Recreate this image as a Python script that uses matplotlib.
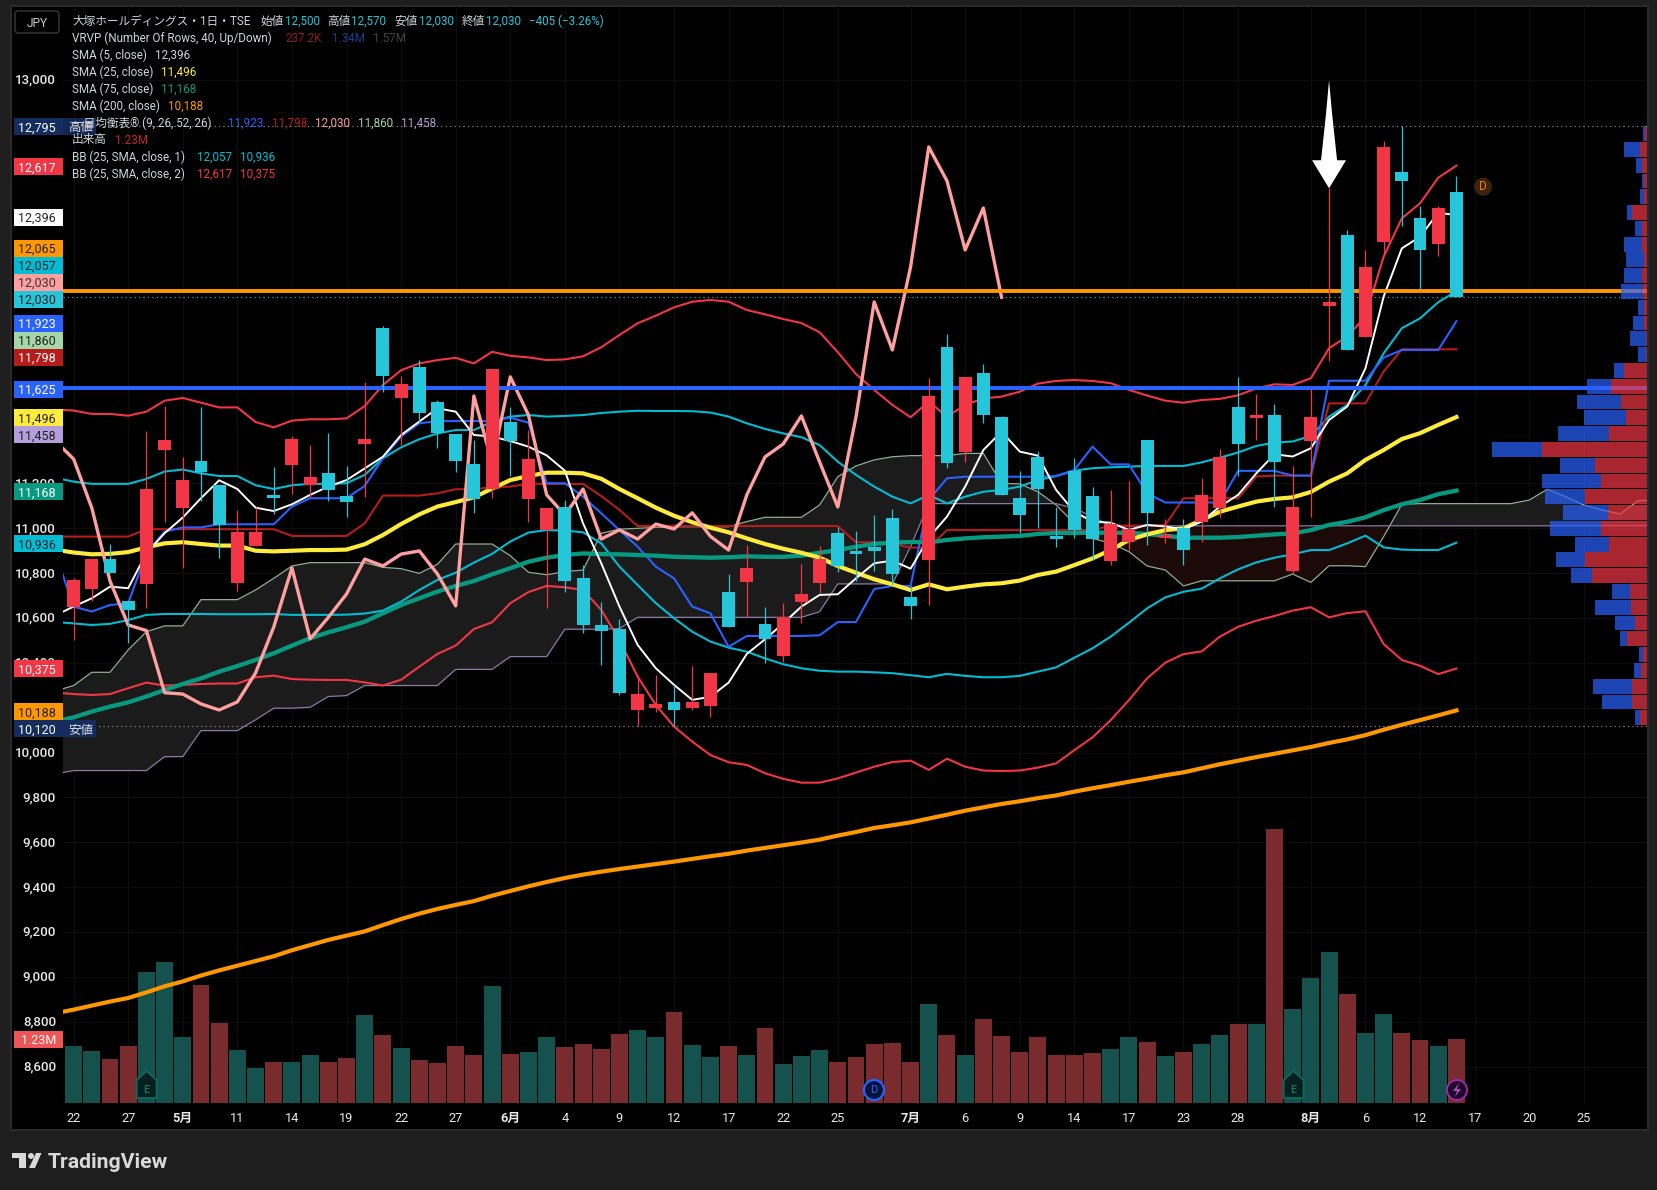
import numpy as np
import matplotlib
matplotlib.use("Agg")
import matplotlib.pyplot as plt
from matplotlib.patches import Rectangle, Circle, Polygon, FancyBboxPatch
from matplotlib.transforms import ScaledTranslation

plt.rcParams['font.family'] = ['Roboto', 'Noto Sans CJK JP', 'DejaVu Sans']

# ---------- data ----------
opens = [10648,10730,10863,10676,10752,11349,11091,11300,11193,10756,10921,11149,11282,11192,11247,11144,11376,11893,11582,11719,
         11563,11420,11287,11175,11474,11131,10993,11094,10779,10569,10551,10190,10199,10226,10199,10208,10716,10761,10573,10431,
         10672,10756,10979,10894,10917,11046,10694,10859,11808,11340,11692,11496,11135,11318,10966,11256,11144,10854,10939,11394,
         10958,11003,11028,11091,11541,11492,11505,10809,11389,11991,12308,11853,12277,12589,12384,12268,12500]
highs = [10777,10866,10930,10676,11434,11545,11317,11542,11193,11082,11097,11273,11412,11371,11424,11278,11654,11902,11679,11752,
         11570,11420,11394,11710,11542,11438,11091,11126,10836,10672,10594,10346,10346,10302,10386,10355,10796,10926,10649,10669,
         10841,10921,11007,10988,11059,11086,10743,11670,11866,11675,11733,11500,11256,11345,11097,11313,11184,11171,11211,11394,
         11042,11042,11225,11354,11675,11599,11554,11278,11621,12516,12330,12241,12727,12795,12437,12437,12570]
lows = [10502,10678,10801,10487,10645,11028,10823,11123,10868,10721,10921,11064,11153,11138,11123,11051,11140,11609,11371,11476,
        11357,11251,11067,11137,11235,11028,10645,10718,10535,10391,10257,10120,10180,10120,10190,10160,10560,10603,10401,10406,
        10579,10710,10805,10765,10810,10747,10596,10658,11269,11296,11470,11149,10979,11001,10917,10958,10859,10836,10903,10926,
        10933,10836,10941,11052,11233,11394,11097,10796,11049,11748,11795,11853,12219,12348,12067,12214,12030]
closes = [10770,10863,10801,10636,11175,11394,11215,11250,11013,10984,10984,11135,11398,11229,11171,11117,11398,11679,11643,11514,
          11423,11300,11131,11710,11389,11309,11091,10765,10569,10544,10267,10261,10217,10190,10226,10355,10560,10823,10507,10603,
          10707,10863,10832,10885,10899,10796,10654,11590,11291,11675,11505,11149,11059,11175,10952,10993,10952,11019,10997,11069,
          10964,10903,11149,11318,11376,11501,11296,11095,11496,12009,11795,12165,12700,12549,12241,12428,12030]

volumes_m = [1.095,1.00,0.846,1.095,2.52,2.71,1.27,2.27,1.54,1.02,0.67,0.79,0.79,0.92,0.79,0.865,1.69,1.31,1.06,0.83,0.77,1.095,0.92,2.25,
             0.94,0.98,1.27,1.08,1.13,1.04,1.33,1.40,1.27,1.75,1.115,0.88,1.095,0.92,1.44,0.75,0.90,1.02,
             0.79,0.88,1.13,1.15,0.79,1.90,1.31,0.92,1.61,1.29,0.98,1.27,0.92,0.92,0.96,1.04,1.27,1.17,0.90,0.98,1.13,1.31,1.52,1.52,
             5.27,1.81,2.40,2.90,2.09,1.35,1.71,1.35,1.21,1.10,1.23]
volume_dir = list("ggrrgggrrggrggrrgrgrrrrgrggrrrrggrggrgrggg"
                  "rrrrrgrgrrrrrrrggrgrggrgrgggrggrrgr")

# the series below start one session before the first visible bar
sma5 = [10612,10651,10688,10740,10733,10889,10978,11048,11134,11214,11175,11092,11077,11107,11149,11186,11215,11267,11319,11416,11476,
        11535,11520,11416,11409,11389,11364,11325,11257,11022,10844,10651,10480,10376,10302,10235,10249,10312,10440,10505,10576,10651,
        10703,10706,10777,10844,10856,10820,10958,11052,11186,11349,11431,11342,11324,11171,11074,11030,11025,10993,11015,11008,10996,
        11030,11097,11149,11245,11330,11320,11357,11483,11543,11713,12033,12248,12300,12407,12396]
sma25 = [10905,10892,10884,10886,10894,10915,10933,10938,10930,10923,10923,10900,10897,10900,10903,10903,10905,10929,10970,11019,11062,
         11097,11117,11138,11177,11215,11233,11248,11248,11245,11221,11175,11134,11092,11056,11027,11003,10982,10955,10930,10909,10891,
         10869,10832,10802,10773,10750,10725,10750,10728,10740,10750,10755,10767,10792,10807,10836,10866,10903,10948,10973,10992,11000,
         11037,11074,11097,11119,11131,11138,11162,11208,11245,11305,11349,11398,11424,11461,11496]
sma75 = [10140,10157,10183,10205,10224,10250,10279,10306,10331,10361,10386,10413,10443,10477,10510,10536,10559,10584,10621,10658,10688,
         10718,10743,10765,10795,10822,10851,10869,10881,10888,10885,10884,10881,10878,10873,10871,10869,10871,10875,10873,10873,10878,
         10891,10903,10918,10930,10936,10939,10937,10948,10955,10960,10963,10966,10975,10979,10979,10981,10980,10980,10974,10967,10958,
         10958,10958,10961,10967,10973,10977,10992,11015,11029,11049,11081,11107,11126,11152,11168]
sma200 = [8838,8854,8872,8890,8906,8931,8958,8980,9006,9029,9050,9071,9092,9119,9142,9165,9184,9203,9231,9258,9282,9303,9321,9338,9362,
          9383,9404,9423,9441,9456,9469,9481,9492,9503,9514,9526,9538,9549,9563,9575,9587,9599,9612,9630,9646,9664,9676,9689,9706,9723,
          9741,9756,9771,9783,9797,9809,9826,9841,9855,9870,9884,9899,9912,9930,9948,9964,9980,9995,10010,10025,10043,10059,10078,10102,
          10124,10145,10166,10188]
bb1_upper = [11225,11208,11198,11198,11198,11220,11253,11262,11245,11233,11233,11192,11175,11192,11198,11198,11201,11238,11312,11361,11397,
             11423,11438,11438,11475,11498,11505,11498,11501,11505,11514,11520,11524,11523,11523,11522,11516,11498,11468,11443,11423,11406,
             11371,11297,11238,11186,11141,11111,11149,11111,11141,11163,11171,11186,11215,11233,11257,11268,11272,11275,11278,11278,11278,
             11294,11315,11338,11367,11382,11387,11412,11498,11550,11639,11780,11892,11936,12008,12057]
bb1_lower = [10582,10576,10569,10574,10591,10614,10618,10618,10618,10617,10617,10617,10618,10614,10614,10614,10615,10620,10633,10673,10725,
             10770,10802,10847,10886,10941,10981,10992,10990,10982,10933,10829,10747,10666,10599,10539,10495,10468,10450,10420,10394,10376,
             10365,10361,10361,10358,10354,10345,10336,10351,10342,10336,10336,10342,10361,10380,10423,10465,10517,10579,10643,10692,10717,
             10731,10777,10817,10848,10869,10884,10903,10903,10933,10967,10915,10905,10903,10903,10936]
bb2_upper = [11530,11525,11510,11510,11502,11520,11569,11581,11560,11539,11539,11474,11450,11480,11486,11486,11490,11545,11639,11705,11735,
             11750,11760,11735,11787,11769,11762,11750,11753,11767,11807,11862,11914,11948,11985,12010,12018,12010,11973,11954,11933,11915,
             11874,11785,11688,11617,11550,11495,11565,11498,11550,11579,11587,11609,11645,11657,11661,11657,11647,11617,11592,11569,11560,
             11572,11577,11593,11624,11642,11639,11669,11803,11855,11944,12211,12382,12449,12563,12617]
bb2_lower = [10268,10261,10257,10261,10287,10312,10299,10302,10306,10308,10308,10336,10343,10328,10325,10324,10324,10313,10299,10325,10383,
             10440,10477,10551,10581,10666,10716,10743,10737,10725,10636,10502,10339,10212,10116,10049,9989,9957,9945,9908,9883,9866,
             9866,9885,9911,9937,9958,9964,9923,9973,9937,9920,9918,9920,9933,9952,10011,10068,10145,10234,10331,10401,10439,
             10451,10517,10561,10588,10609,10633,10648,10603,10622,10630,10484,10413,10387,10350,10375]
tenkan = [10889,10651,10629,10658,10666,10889,10985,11004,11004,11018,11018,11018,11018,11097,11134,11134,11134,11189,11312,11409,11468,
          11478,11478,11478,11478,11493,11471,11201,11201,11141,11067,10992,10918,10829,10777,10651,10621,10472,10520,10520,10520,10520,
          10523,10582,10582,10729,10743,10743,11126,11223,11230,11230,11230,11230,11230,11233,11260,11364,11285,11285,11156,11115,11115,
          11115,11115,11256,11256,11256,11235,11235,11658,11658,11658,11761,11795,11795,11795,11923]
kijun = [10963,10963,10963,10963,10963,10996,10996,10996,10996,10996,10996,10996,10996,10966,10966,10966,10966,11022,11146,11146,11146,
         11156,11174,11174,11183,11186,11199,11198,11198,11198,11144,11082,11010,11010,11010,11010,11010,11010,11010,11010,11010,11010,
         11010,11010,10938,10938,10930,10914,10914,10992,10992,10992,10992,10992,10992,10992,10992,10992,11012,11012,11012,11015,11134,
         11134,11134,11134,11231,11235,11235,11235,11557,11557,11557,11699,11798,11798,11798,11798]
senkou_a = [10275,10299,10358,10358,10458,10539,10565,10565,10682,10682,10682,10725,10777,10832,10847,10847,10847,10847,10826,10820,10799,
            10840,10930,10930,10930,10878,10804,10793,10807,10814,10978,10996,11000,11004,11007,11007,11007,11007,11030,11049,11049,11049,
            11104,11230,11278,11305,11319,11324,11324,11324,11334,11334,11200,11198,11163,11104,11022,10955,10933,10896,10832,10814,10743,
            10766,10766,10766,10766,10766,10796,10759,10833,10833,10829,10963,11107,11110,11110,11110,11110,11110,11110,11126,11174,11141,
            11104,11082,11064,11124,11124]
senkou_b = [9905,9920,9920,9920,9920,9920,9982,9982,10098,10098,10098,10146,10198,10198,10202,10250,10254,10299,10299,10299,10299,
            10299,10371,10371,10371,10428,10428,10428,10550,10550,10550,10553,10603,10603,10603,10603,10603,10603,10603,10603,10603,10603,
            10628,10752,10752,10752,10752,10918,11110,11110,11110,11110,11110,11110,11110,11110,11089,11052,11011,11011,11011,11011,11011,
            11011,11011,11011,11011,11011,11011,11011,11011,11011,11011,11011,11011,11011,11011,11011,11011,11011,11011,11011,11011,11011,
            11011,11011,11011,11011,11011]

# volume profile, top row first (million shares)
vp_low, vp_high = 10120, 12795
vp_up = [.09,.39,.32,.16,.18,.87,.32,.32,.18,.32,.237,.16,.18,.05,.05,1.39,2.17,1.53,1.28,2.30,6.27,3.08,2.76,3.72,2.35,2.76,2.30,3.72,3.26,
         1.03,.98,.71,1.21,.25,.34,.89,.89,.39]
vp_down = [.16,1.00,.36,.16,.21,.30,.41,1.07,1.09,1.07,1.34,.39,.68,.98,.50,.59,1.39,2.67,2.51,3.03,3.01,2.14,3.49,2.35,2.69,3.06,2.03,1.73,
           1.30,1.09,2.10,1.23,.43,.25,.46,2.35,1.82,.30]

resistance_orange = 12060
resistance_blue = 11625

tick_prices = [13000,11200,11000,10800,10600,10400,10200,10000,9800,9600,9400,9200,9000,8800,8600]
time_labels = {0:'22',3:'27',6:'5月',9:'11',12:'14',15:'19',18:'22',21:'27',24:'6月',27:'4',30:'9',33:'12',36:'17',39:'22',42:'25',
               46:'7月',49:'6',52:'9',55:'14',58:'17',61:'23',64:'28',68:'8月',71:'6',74:'12',77:'17',80:'20',83:'25'}

# ---------- colours ----------
BG, PANEL, BORDER = '#1e1e1e', '#000000', '#2a2a2a'
UP, DOWN = '#f23645', '#26c6da'
VOL_UP, VOL_DOWN = '#7a2b2d', '#15524d'
WHITE, YELLOW, TEAL, ORANGE = '#ffffff', '#ffeb3b', '#089981', '#ff9800'
BLUE, DARKRED, PINK = '#2962ff', '#b71c1c', '#ffa0a0'
SA, SB = '#8fae8f', '#8a7aa8'
CYAN = '#00bcd4'
TXT = '#d1d4dc'

# ---------- geometry (pixels of the 1658x1190 picture) ----------
W, H = 1658, 1190
fig = plt.figure(figsize=(W/100, H/100), dpi=100, facecolor=BG)
def rect(x0, y0, x1, y1):
    return [x0/W, 1-y1/H, (x1-x0)/W, (y1-y0)/H]

# chrome layer below everything
bgax = fig.add_axes([0,0,1,1], zorder=0); bgax.set_xlim(0,W); bgax.set_ylim(H,0); bgax.axis('off')
bgax.add_patch(Rectangle((11,6),1637,1124,fc=PANEL,ec=BORDER,lw=1.5))

CH_L, CH_R, CH_T, CH_B = 63, 1647, 6, 1104
BAR0, BAR_STEP = 73.6, 18.195
PY0, PSCALE = 528.3, 0.2243
xlim = ((CH_L-BAR0)/BAR_STEP, (CH_R-BAR0)/BAR_STEP)
ylim = (11000+(PY0-CH_B)/PSCALE, 11000+(PY0-CH_T)/PSCALE)

# faint grid, behind the volume bars
axg = fig.add_axes(rect(CH_L,CH_T,CH_R,CH_B), zorder=0.5, facecolor='none')
axg.set_xlim(*xlim); axg.set_ylim(*ylim)
for s in axg.spines.values(): s.set_visible(False)
axg.set_yticks(tick_prices); axg.set_xticks(list(time_labels))
axg.tick_params(length=0, labelleft=False, labelbottom=False)
axg.grid(True, color='#0e0e0e', lw=0.7)

# volume pane
axv = fig.add_axes(rect(CH_L,CH_T,CH_R,CH_B), zorder=1, facecolor='none')
axv.set_xlim(*xlim); axv.set_ylim(-1/52.03, (1103-CH_T)/52.03); axv.axis('off')
axv.bar(np.arange(len(volumes_m)), volumes_m, width=0.93,
        color=[VOL_UP if d=='r' else VOL_DOWN for d in volume_dir], linewidth=0)

# main price pane
ax = fig.add_axes(rect(CH_L,CH_T,CH_R,CH_B), zorder=2, facecolor='none')
ax.set_xlim(*xlim); ax.set_ylim(*ylim)
for s in ax.spines.values(): s.set_visible(False)
ax.set_yticks(tick_prices); ax.set_yticklabels([f'{t:,}' for t in tick_prices], fontsize=9.6, color='#e8e8e8', fontweight='medium')
ax.tick_params(axis='y', length=0, pad=5)
for lab in ax.get_yticklabels():
    lab.set_transform(lab.get_transform() + ScaledTranslation(0, 1.2/100, fig.dpi_scale_trans))
ax.set_xticks(list(time_labels)); ax.set_xticklabels(list(time_labels.values()), fontsize=9.2, color='#e8e8e8')
for lab, k in zip(ax.get_xticklabels(), time_labels):
    if '月' in time_labels[k]: lab.set_fontweight('bold')
ax.tick_params(axis='x', length=0, pad=6)

xs = np.arange(-1, 77)
sx = np.arange(-1, len(senkou_a)-1)
a, b = np.array(senkou_a,float), np.array(senkou_b,float)
ax.fill_between(sx, a, b, where=a>=b, interpolate=True, color='#1b1b1b', lw=0, zorder=1)
ax.fill_between(sx, a, b, where=a<b, interpolate=True, color='#1c0a08', lw=0, zorder=1)
ax.plot(sx, senkou_a, color=SA, lw=0.9, zorder=2)
ax.plot(sx, senkou_b, color=SB, lw=0.9, zorder=2)

ax.plot(xs, bb1_upper, color=CYAN, lw=1.5, zorder=3)
ax.plot(xs, bb1_lower, color=CYAN, lw=1.5, zorder=3)
ax.plot(xs, bb2_upper, color=UP, lw=1.5, zorder=3)
ax.plot(xs, bb2_lower, color=UP, lw=1.5, zorder=3)
ax.plot(xs, kijun, color=DARKRED, lw=1.5, zorder=3)
ax.plot(xs, tenkan, color=BLUE, lw=1.5, zorder=3)
ax.plot(xs, sma200, color=ORANGE, lw=3.0, zorder=3)
ax.plot(xs, sma75, color=TEAL, lw=3.1, zorder=3)
ax.plot(xs, sma25, color=YELLOW, lw=3.0, zorder=3)
ax.plot(xs, sma5, color=WHITE, lw=1.4, zorder=4)

# chikou: close shifted 25 sessions back
chx = np.arange(-1, len(closes)-25)
ax.plot(chx, [closes[i+25] for i in chx], color=PINK, lw=2.4, zorder=4)

ax.axhline(resistance_orange, color=ORANGE, lw=2.8, zorder=6)
ax.axhline(resistance_blue, color=BLUE, lw=2.9, zorder=6)
ax.axhline(max(highs), color='#9a9a9a', lw=0.8, ls=(0,(1,3)), zorder=2)
ax.axhline(min(lows), color='#9a9a9a', lw=0.8, ls=(0,(1,3)), zorder=2)
ax.axhline(closes[-1], color=DOWN, lw=0.8, ls=(0,(1,3)), zorder=2)

# candles
for i,(o,h,l,c) in enumerate(zip(opens,highs,lows,closes)):
    col = UP if c>=o else DOWN
    ax.vlines(i, l, h, color=col, lw=0.9, zorder=7)
    ax.bar(i, max(abs(c-o),14), bottom=min(o,c), width=0.71, color=col, lw=0, zorder=7)

# arrow pointing to the high of bar 69
tip_x, tip_y = 69, highs[69]
dx, dy = 1/BAR_STEP, 1/PSCALE
arrow = [(0,0),(-17,28),(-8,28),(-3,75),(0,108),(3,75),(8,28),(17,28)]
ax.add_patch(Polygon([(tip_x+px*dx, tip_y+py*dy) for px,py in arrow], closed=True, fc='white', ec='none', zorder=9))

# volume profile
VP_L = 1450
PX_PER_M = 16.73
axp = fig.add_axes(rect(VP_L,CH_T,CH_R,CH_B), zorder=3, facecolor='none')
axp.set_xlim((CH_R-VP_L)/PX_PER_M, 0); axp.set_ylim(*ylim); axp.axis('off')
rows = len(vp_up)
row_h = (vp_high-vp_low)/rows
centers = [vp_high-row_h*(k+0.5) for k in range(rows)]
axp.barh(centers, vp_up, height=row_h*0.94, color=UP, alpha=0.7, lw=0)
axp.barh(centers, vp_down, left=vp_up, height=row_h*0.94, color=BLUE, alpha=0.7, lw=0)

# ---------- overlay: tags, legend, markers ----------
top = fig.add_axes([0,0,1,1], zorder=5, facecolor='none'); top.set_xlim(0,W); top.set_ylim(H,0); top.axis('off')

def tag(y, txt, bg, fg, x0=14, x1=63, fs=9.0):
    top.add_patch(Rectangle((x0,y-8.5),x1-x0,17,fc=bg,ec='none'))
    top.text(56, y, txt, ha='right', va='center_baseline', color=fg, fontsize=fs)

NAVY = '#142c5e'
top.add_patch(Rectangle((63,118),33,17,fc=NAVY,ec='none',alpha=0.9))
top.text(68,126.5,'高値',color='#e0e0e0',fontsize=9,va='center_baseline')
top.add_patch(Rectangle((63,720),33,17,fc=NAVY,ec='none'))
top.text(68,729,'安値',color='#e0e0e0',fontsize=9,va='center_baseline')
tags = [(126.7,'12,795',NAVY,'#ffffff'),(166.7,'12,617',UP,'#ffffff'),(217,'12,396','#ffffff','#222222'),
        (248,'12,065',ORANGE,'#222222'),(265,'12,057',CYAN,'#222222'),(282,'12,030',PINK,'#333333'),(299,'12,030',DOWN,'#222222'),
        (323,'11,923',BLUE,'#ffffff'),(340,'11,860','#a5d6a7','#222222'),(357,'11,798',DARKRED,'#ffffff'),(389,'11,625',BLUE,'#ffffff'),
        (417.7,'11,496',YELLOW,'#222222'),(434.7,'11,458','#b39ddb','#222222'),(491.7,'11,168',TEAL,'#ffffff'),(543.7,'10,936',CYAN,'#222222'),
        (668.7,'10,375',UP,'#ffffff'),(711.7,'10,188',ORANGE,'#222222'),(728.7,'10,120',NAVY,'#ffffff'),(1039,'1.23M','#f05555','#ffffff')]
for y,t,bg,fg in tags: tag(y,t,bg,fg)

# JPY button
top.add_patch(FancyBboxPatch((15,11),44,22,boxstyle='round,pad=0,rounding_size=3',fc='#000000',ec='#2f2f2f',lw=1.2))
top.text(37,22,'JPY',ha='center',va='center_baseline',color='#c8c8c8',fontsize=8.6)

LFS = 8.4
def lt(x, y, s, c=TXT): top.text(x, y, s, color=c, fontsize=LFS, va='center_baseline', ha='left')
C1 = '#26c6da'
lt(72,19.5,'大塚ホールディングス・1日・TSE')
for x,s,c in [(261,'始値',TXT),(285,'12,500',C1),(327,'高値',TXT),(351.5,'12,570',C1),(394.6,'安値',TXT),(419,'12,030',C1),
              (461.4,'終値',TXT),(486,'12,030',C1),(529,'−405 (−3.26%)',C1)]:
    lt(x,19.5,s,c)
lt(72,36.5,'VRVP (Number Of Rows, 40, Up/Down)')
lt(286,36.5,'237.2K','#8b1f26'); lt(332,36.5,'1.34M','#1c3f95'); lt(373,36.5,'1.57M','#444444')
lt(72,53.5,'SMA (5, close)'); lt(155,53.5,'12,396',TXT)
lt(72,70.5,'SMA (25, close)'); lt(161,70.5,'11,496',YELLOW)
lt(72,87.5,'SMA (75, close)'); lt(161,87.5,'11,168',TEAL)
lt(72,104.5,'SMA (200, close)'); lt(168,104.5,'10,188',ORANGE)
lt(72,121.5,'一目均衡表® (9, 26, 52, 26)')
lt(228.5,121.5,'11,923',BLUE); lt(272,121.5,'11,798',DARKRED); lt(315,121.5,'12,030',PINK); lt(358,121.5,'11,860','#a5d6a7'); lt(401,121.5,'11,458','#b39ddb')
lt(72,138.5,'出来高'); lt(115.5,138.5,'1.23M','#c62828')
lt(72,155.5,'BB (25, SMA, close, 1)'); lt(197,155.5,'12,057',CYAN); lt(240,155.5,'10,936',CYAN)
lt(72,172.5,'BB (25, SMA, close, 2)'); lt(197,172.5,'12,617',UP); lt(240,172.5,'10,375',UP)

# event markers
def earn(x):
    pts = [(x-10,1080),(x,1071),(x+10,1080),(x+10,1098),(x-10,1098)]
    top.add_patch(Polygon(pts,closed=True,fc='#06211d',ec='#0b6b5f',lw=1.3))
    top.text(x,1090,'E',ha='center',va='center',color='#0b8a78',fontsize=8)
earn(146.6); earn(1293.6)
top.add_patch(Circle((874,1090),10,fc='#07143a',ec=BLUE,lw=1.6))
top.text(874,1090,'D',ha='center',va='center',color=BLUE,fontsize=8)
top.add_patch(Circle((1457,1090),10,fc='#1c0a26',ec='#9c27b0',lw=1.4))
top.add_patch(Polygon([(1459,1083),(1453,1091),(1457,1091),(1455,1097),(1461,1089),(1457,1089)],closed=True,fc='#ab47bc',ec='none'))
top.add_patch(Circle((1483,186.7),9,fc='#3a2410',ec='none'))
top.text(1483,186.7,'D',ha='center',va='center',color='#f57c00',fontsize=8.5)

# TradingView logo
LG = '#d9d9d9'
top.add_patch(Polygon([(12,1153),(26,1153),(26,1168),(19,1168),(19,1158),(12,1158)],closed=True,fc=LG,ec='none'))
top.add_patch(Circle((31,1156),3,fc=LG,ec='none'))
top.add_patch(Polygon([(36,1153),(41.5,1153),(35,1168),(29,1168)],closed=True,fc=LG,ec='none'))
top.text(48,1161,'TradingView',color=LG,fontsize=15.3,va='center_baseline',ha='left',fontweight='bold')

fig.savefig('out.png', dpi=100, facecolor=BG)
